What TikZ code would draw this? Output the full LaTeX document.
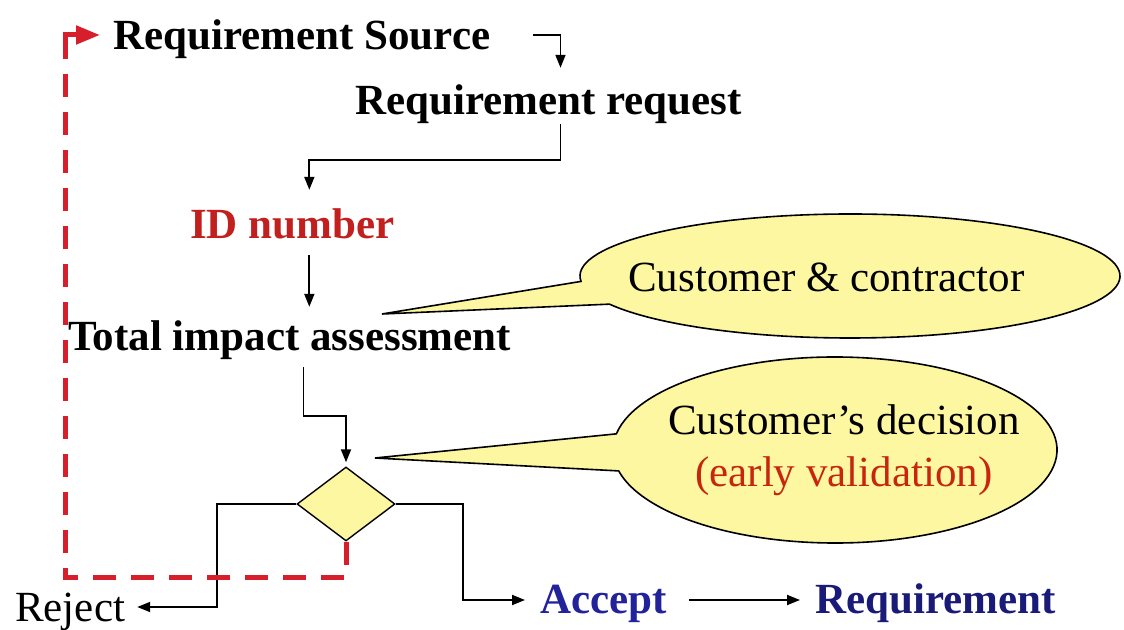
\documentclass[tikz,border=0pt]{standalone}
\usepackage{fontspec}
\setmainfont{Liberation Serif}
\usetikzlibrary{arrows.meta,shapes.geometric,calc}
\definecolor{bubblefill}{HTML}{FCF7A0}
\definecolor{loopred}{HTML}{D61F2A}
\definecolor{idred}{HTML}{C21F1F}
\definecolor{notered}{HTML}{C8250F}
\definecolor{acceptblue}{HTML}{22229A}
\definecolor{finalnavy}{HTML}{1A1A78}
\begin{document}
\begin{tikzpicture}[x=1pt,y=1pt,
  lbl/.style={font=\bfseries\fontsize{43}{50}\selectfont, inner sep=0pt,
    text height=29pt, text depth=9pt, anchor=base west},
  note/.style={font=\fontsize{43}{50}\selectfont, inner sep=0pt, anchor=base west},
  flow/.style={draw=black, line width=1.8pt, -{Triangle[length=13pt,width=10pt]}},
  back/.style={draw=loopred, line width=5pt, dash pattern=on 23pt off 15pt},
  backhead/.style={draw=loopred, line width=5pt,
    -{Triangle[length=24pt,width=18pt,fill=loopred]}},
  bubble/.style={fill=bubblefill, draw=black, line width=1.6pt, line join=miter},
  decision/.style={diamond, draw=black, fill=bubblefill, line width=1.4pt,
    inner sep=0pt, minimum width=98pt, minimum height=74pt, aspect=1.32}]

\useasboundingbox (0,0) rectangle (1124,629);
\fill[white] (0,0) rectangle (1124,629);

% speech bubbles
\path[bubble] (382,315) -- ($(850,353)+(185:270 and 62)$)
  arc[start angle=185, end angle=-153, x radius=270, y radius=62] -- cycle;
\path[bubble] (375,171) -- ($(835,179)+(170:222 and 93)$)
  arc[start angle=170, end angle=-167, x radius=222, y radius=93] -- cycle;

% process steps
\node[lbl] (src) at (113,579) {Requirement Source};
\node[lbl] (req) at (355,514) {Requirement request};
\node[lbl, text=idred] (id) at (190,390) {ID number};
\node[lbl] (tia) at (68,278) {Total impact assessment};
\node[decision] (dec) at (346,125) {};
\node[note, text height=29pt, text depth=9pt] (rej) at (15,8) {Reject};
\node[lbl, text=acceptblue] (acc) at (540,16) {Accept};
\node[lbl, text=finalnavy] (fin) at (815,16) {Requirement};

% bubble texts
\node[note] (n1) at (628,337) {Customer \& contractor};
\node[note] (n2) at (668,194) {Customer’s decision};
\node[note, text=notered] (n3) at (695,142) {(early validation)};

% flow connectors
\draw[flow] ([shift={(43,5)}]src.east) -| ([shift={(12,18)}]req.north);
\draw[flow] ([xshift=12pt]req.south) -- ++(0,-36) -| ([shift={(17,20)}]id.north);
\draw[flow, shorten >=22pt] ([shift={(17,-7)}]id.south) -- ([shift={(17,-7)}]id.south |- tia.north);
\draw[flow] ([shift={(14,-7)}]tia.south) -- ++(0,-49) -| ([yshift=4pt]dec.north);
\draw[flow] (dec.west) -- ++(-79,0) |- ([shift={(12,4)}]rej.east);
\draw[flow] (dec.east) -- ++(67,0) |- ([shift={(-15,3)}]acc.west);
\draw[flow] ([shift={(22,3)}]acc.east) -- ([shift={(-15,3)}]fin.west);

% rejection loop back to the source
\draw[back] (dec.south) -- ++(0,-36) -| ([shift={(-48,-3)}]src.west);
\draw[backhead] ([shift={(-48,-3)}]src.west) |- ([shift={(-13,5)}]src.west);
\end{tikzpicture}
\end{document}
